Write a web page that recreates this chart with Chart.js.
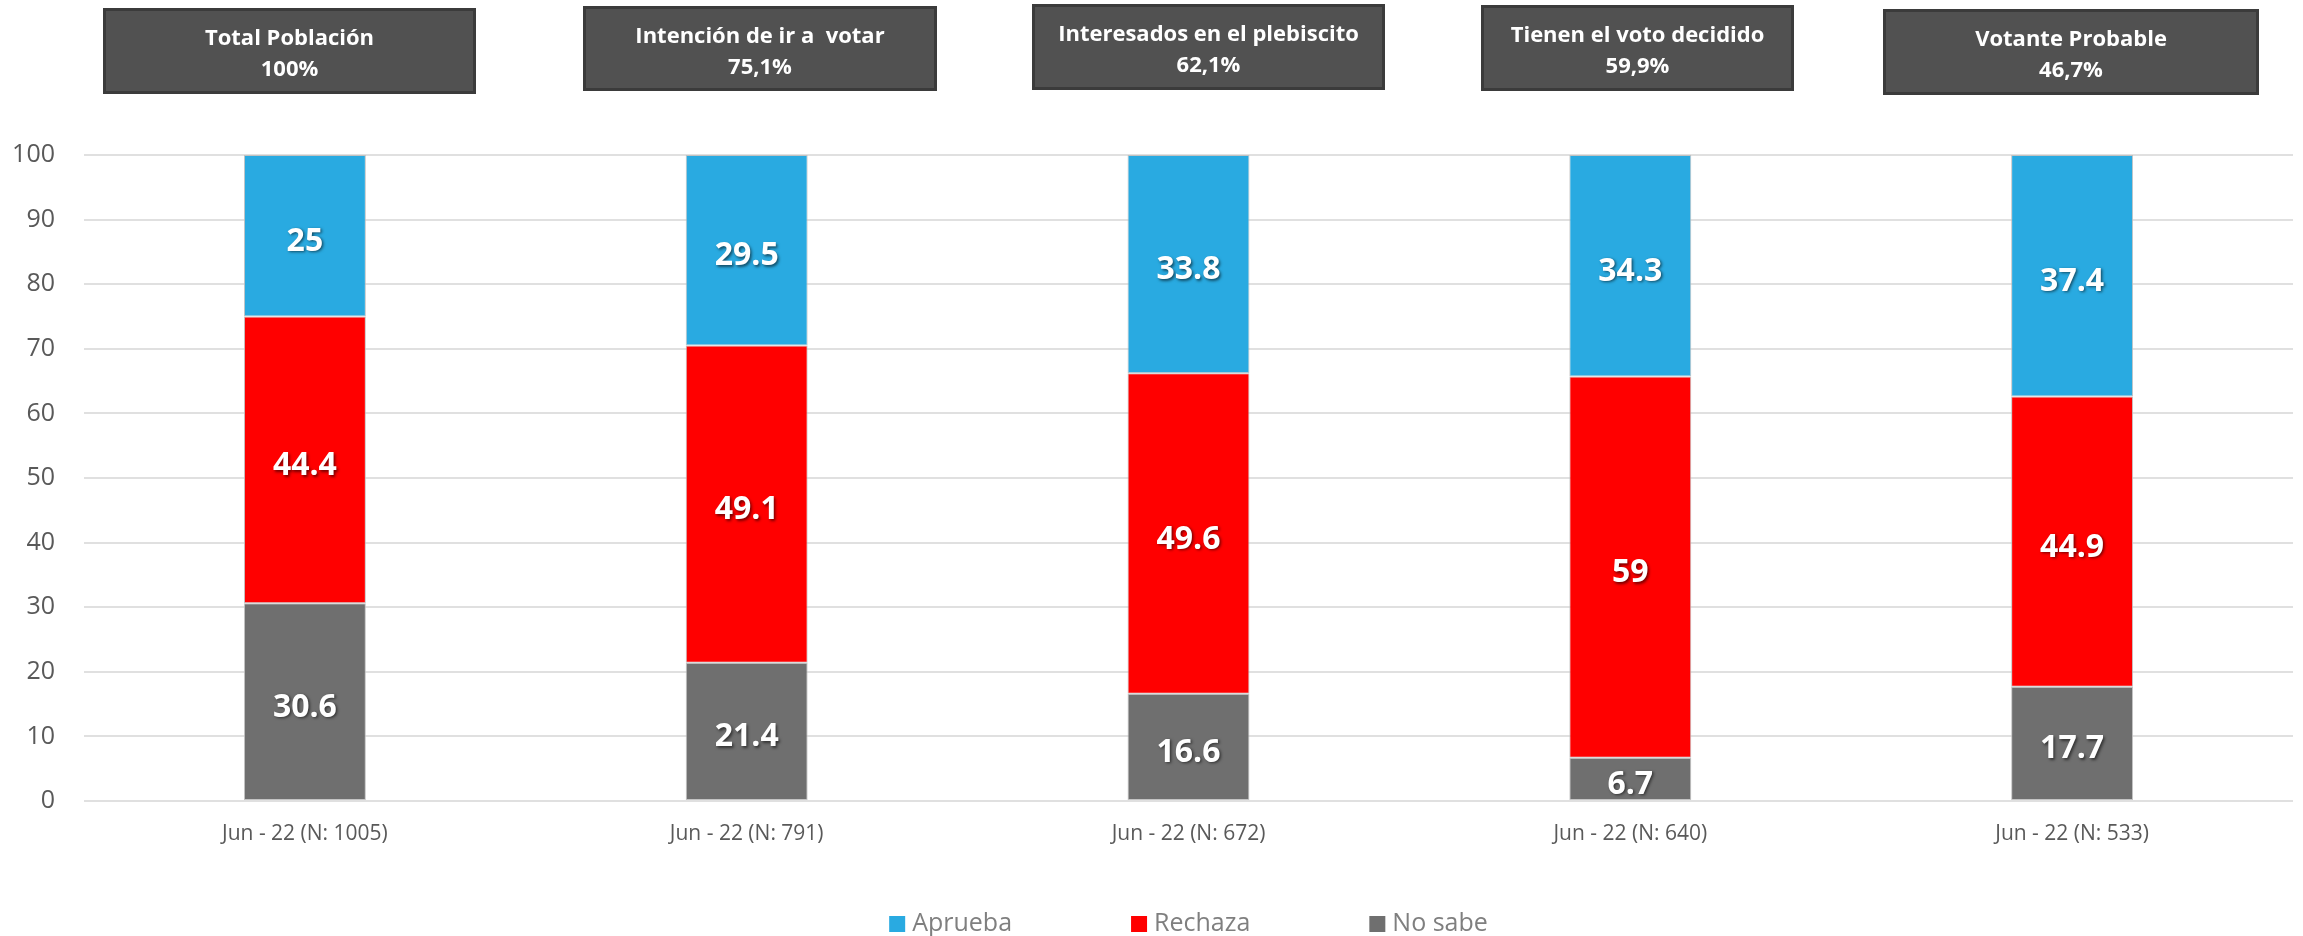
<!DOCTYPE html>
<html>
<head>
<meta charset="utf-8">
<script src="https://cdn.jsdelivr.net/npm/chart.js@4.4.0/dist/chart.umd.min.js"></script>
<style>
  html, body { margin: 0; padding: 0; background: #ffffff; }
  canvas { display: block; }
</style>
</head>
<body>
<canvas id="chart" width="2303" height="936"></canvas>
<script>
// Survey segments (x axis) and vote intention shares per segment
const categories = ['Jun - 22 (N: 1005)', 'Jun - 22 (N: 791)', 'Jun - 22 (N: 672)', 'Jun - 22 (N: 640)', 'Jun - 22 (N: 533)'];
const aprueba = [25, 29.5, 33.8, 34.3, 37.4];
const rechaza = [44.4, 49.1, 49.6, 59, 44.9];
const noSabe = [30.6, 21.4, 16.6, 6.7, 17.7];

// Header captions above each column
const groupTitles = ['Total Población', 'Intención de ir a  votar', 'Interesados en el plebiscito', 'Tienen el voto decidido', 'Votante Probable'];
const groupShares = ['100%', '75,1%', '62,1%', '59,9%', '46,7%'];

// Y axis range
const yMin = 0;
const yMax = 100;
const yStep = 10;

const FONT = '"Open Sans", "DejaVu Sans", sans-serif';

// Header boxes: x, y, width, height
const headerBoxes = [
  [103, 8, 373, 86],
  [583, 6, 354, 85],
  [1032, 4, 353, 86],
  [1481, 5, 313, 86],
  [1883, 9, 376, 86]
];

const headerPlugin = {
  id: 'headers',
  afterDraw(chart) {
    const ctx = chart.ctx;
    ctx.save();
    headerBoxes.forEach((b, i) => {
      const [x, y, w, h] = b;
      ctx.fillStyle = '#515151';
      ctx.fillRect(x, y, w, h);
      ctx.strokeStyle = '#3b3b3b';
      ctx.lineWidth = 3;
      ctx.strokeRect(x + 1.5, y + 1.5, w - 3, h - 3);
      ctx.fillStyle = '#ffffff';
      ctx.font = 'bold 22px ' + FONT;
      ctx.textAlign = 'center';
      ctx.textBaseline = 'middle';
      const cx = x + w / 2;
      const cy = y + h / 2;
      ctx.fillText(groupTitles[i], cx, cy - 12);
      ctx.fillText(groupShares[i], cx, cy + 19);
    });
    ctx.restore();
  }
};

// Value labels centred in each stacked segment
const valueLabelPlugin = {
  id: 'valueLabels',
  afterDatasetsDraw(chart) {
    const ctx = chart.ctx;
    ctx.save();
    ctx.font = 'bold 32px ' + FONT;
    ctx.textAlign = 'center';
    ctx.textBaseline = 'middle';
    ctx.fillStyle = '#ffffff';
    ctx.shadowColor = 'rgba(0,0,0,0.55)';
    ctx.shadowOffsetX = 1.5;
    ctx.shadowOffsetY = 1.5;
    ctx.shadowBlur = 3;
    chart.data.datasets.forEach((ds, di) => {
      const meta = chart.getDatasetMeta(di);
      meta.data.forEach((el, i) => {
        const p = el.getProps(['x', 'y', 'base'], true);
        ctx.fillText(String(ds.data[i]), p.x, (p.y + p.base) / 2 + 6);
      });
    });
    ctx.restore();
  }
};

// Legend row at the bottom, in the order Aprueba, Rechaza, No sabe
const legendPlugin = {
  id: 'bottomLegend',
  afterDraw(chart) {
    const ctx = chart.ctx;
    const order = [2, 1, 0];
    const box = 16, gapText = 7, gapItem = 119;
    ctx.save();
    ctx.font = '25px ' + FONT;
    ctx.textBaseline = 'middle';
    ctx.textAlign = 'left';
    const widths = order.map(di => box + gapText + ctx.measureText(chart.data.datasets[di].label).width);
    const total = widths.reduce((a, b) => a + b, 0) + gapItem * (order.length - 1);
    const area = chart.chartArea;
    let x = (area.left + area.right) / 2 - total / 2;
    const y = 924;
    order.forEach((di, k) => {
      const ds = chart.data.datasets[di];
      ctx.fillStyle = ds.backgroundColor;
      ctx.fillRect(x, y - box / 2, box, box);
      ctx.fillStyle = '#7f7f7f';
      ctx.fillText(ds.label, x + box + gapText, y);
      x += widths[k] + gapItem;
    });
    ctx.restore();
  }
};

const barStyle = {
  categoryPercentage: 1,
  barPercentage: 0.276,
  borderWidth: 1,
  borderColor: 'rgba(190,190,190,0.9)',
  borderSkipped: false
};

new Chart(document.getElementById('chart'), {
  type: 'bar',
  data: {
    labels: categories,
    datasets: [
      Object.assign({ label: 'No sabe', data: noSabe, backgroundColor: '#6f6f6f' }, barStyle),
      Object.assign({ label: 'Rechaza', data: rechaza, backgroundColor: '#ff0000' }, barStyle),
      Object.assign({ label: 'Aprueba', data: aprueba, backgroundColor: '#29aae1' }, barStyle)
    ]
  },
  options: {
    responsive: false,
    devicePixelRatio: 1,
    animation: false,
    layout: { padding: { top: 155, left: 0, right: 10, bottom: 0 } },
    plugins: {
      legend: { display: false },
      tooltip: { enabled: false }
    },
    scales: {
      x: {
        stacked: true,
        grid: { display: false, drawTicks: false },
        border: { display: false },
        ticks: {
          color: '#595959',
          font: { family: FONT, size: 21 },
          padding: 20,
          maxRotation: 0
        },
        afterFit(scale) {
          scale.height = 135;
          scale.paddingLeft = 0;
          scale.paddingRight = 0;
        }
      },
      y: {
        stacked: true,
        min: yMin,
        max: yMax,
        ticks: {
          stepSize: yStep,
          color: '#595959',
          font: { family: FONT, size: 25 },
          padding: 29
        },
        grid: { color: '#e0e0e0', lineWidth: 2, drawTicks: false },
        border: { display: false },
        afterFit(scale) {
          scale.width = 84;
          scale.paddingTop = 0;
          scale.paddingBottom = 0;
        }
      }
    }
  },
  plugins: [valueLabelPlugin, headerPlugin, legendPlugin]
});
</script>
</body>
</html>
